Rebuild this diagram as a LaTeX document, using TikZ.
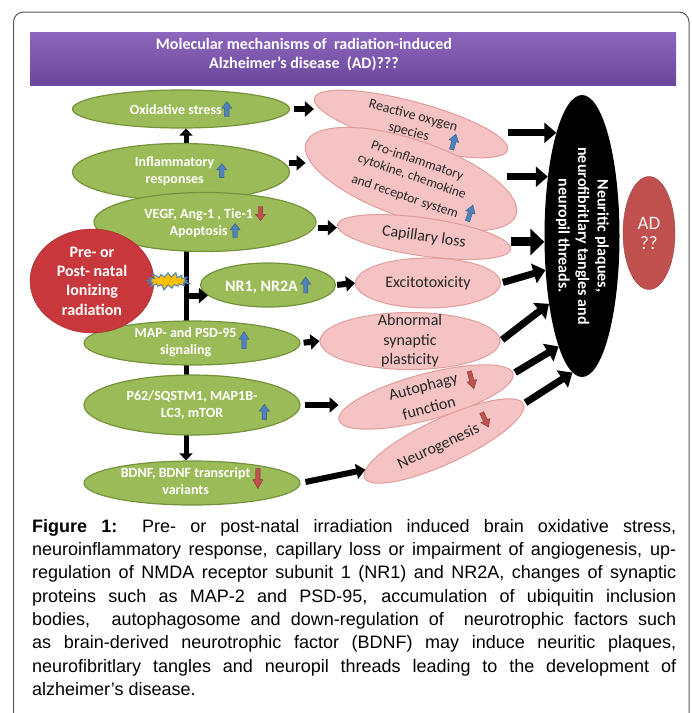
\documentclass[tikz,border=0pt]{standalone}
\usepackage{fontspec}
\setmainfont{Carlito}
\newfontfamily\capfont{Liberation Sans}
\usepackage{graphicx}
\usetikzlibrary{shapes.geometric,shapes.symbols,arrows.meta,backgrounds}
\definecolor{greenfill}{HTML}{9BBB59}
\definecolor{greenedge}{HTML}{76923C}
\definecolor{pinkfill}{HTML}{F5C3C3}
\definecolor{pinkedge}{HTML}{E39C9C}
\definecolor{radred}{HTML}{C8373B}
\definecolor{adred}{HTML}{C0504D}
\definecolor{upblue}{HTML}{4F81BD}
\definecolor{zapyellow}{HTML}{FFC000}
\definecolor{hdrtop}{HTML}{8C67BD}
\definecolor{hdrbot}{HTML}{6B479B}
\newcommand{\arrup}[1][15]{\tikz[x=1pt,y=1pt,baseline=2pt]\filldraw[fill=upblue,draw=upblue!70!black,line width=0.4pt] (-2.2,0) -- (2.2,0) -- (2.2,#1*0.55) -- (5,#1*0.55) -- (0,#1) -- (-5,#1*0.55) -- (-2.2,#1*0.55) -- cycle;}
\newcommand{\arrdown}[1][15]{\tikz[x=1pt,y=1pt,baseline=2pt]\filldraw[fill=adred,draw=adred!70!black,line width=0.4pt] (-2.2,#1) -- (2.2,#1) -- (2.2,#1*0.45) -- (5,#1*0.45) -- (0,0) -- (-5,#1*0.45) -- (-2.2,#1*0.45) -- cycle;}
\newcommand{\capspace}{\spaceskip=0.278em plus 1em minus 0.08em\relax}
\begin{document}
\begin{tikzpicture}[x=1pt,y=-1pt,
        cause/.style={ellipse,draw=greenedge,fill=greenfill,line width=1.2pt,text=white,inner sep=-30pt,align=center,font=\bfseries\fontsize{14}{17}\selectfont},
        effect/.style={ellipse,draw=pinkedge,fill=pinkfill,line width=1pt,text=black!85,inner sep=-30pt,align=center,font=\fontsize{16}{19.5}\selectfont},
        blockarrow/.style={line width=6pt,-{Triangle[length=9pt,width=15pt]}},
        bigarrow/.style={line width=7pt,-{Triangle[length=12pt,width=20pt]}}]
        \useasboundingbox (0,0) rectangle (692,713);
        \draw[black!65,line width=1pt,rounded corners=10pt] (13.5,12) rectangle (689,760);
        \node[rectangle,minimum width=646pt,minimum height=53pt,inner sep=0pt,top color=hdrtop,bottom color=hdrbot] (hdr) at (353,58.5) {};
        \node[text=white,align=center,font=\bfseries\fontsize{16}{19}\selectfont] (title) at (304,55) {Molecular mechanisms of \ radiation-induced\\Alzheimer's disease \ (AD)???};
        % causes
        \node[cause,minimum width=217pt,minimum height=38pt] (ox) at (181,109) {Oxidative stress\arrup[15]};
        \node[cause,minimum width=217pt,minimum height=57pt] (infl) at (181,172) {\begin{tabular}{@{}c@{}}Inflammatory\\responses\end{tabular}\,\arrup[14]};
        \node[cause,minimum width=222pt,minimum height=59pt] (vegf) at (205,222) {VEGF, Ang-1 , Tie-1\,\arrdown[14]\\Apoptosis\,\arrup[14]};
        \node[cause,minimum width=135pt,minimum height=44pt,font=\bfseries\fontsize{16}{19}\selectfont] (nr) at (268,285) {NR1, NR2A\,\arrup[16]};
        \node[cause,minimum width=216pt,minimum height=44pt] (map) at (192,343) {\begin{tabular}{@{}c@{}}MAP- and PSD-95\\signaling\end{tabular}\,\arrup[17]};
        \node[cause,minimum width=216pt,minimum height=60pt] (p62) at (192,405) {P62/SQSTM1, MAP1B-\\LC3, mTOR\rlap{\hspace{36pt}\arrup[15]}};
        \node[cause,minimum width=216pt,minimum height=44pt] (bdnf) at (192,483) {\begin{tabular}{@{}c@{}}BDNF, BDNF transcript\\variants\end{tabular}\,\arrdown[20]};
        \node[ellipse,fill=radred,draw=radred!80!black,minimum width=124pt,minimum height=104pt,inner sep=-30pt,text=white,align=center,font=\bfseries\fontsize{16}{19.3}\selectfont] (rad) at (92,281) {Pre- or\\Post- natal\\Ionizing\\radiation};
        \node[starburst,fill=zapyellow,draw=upblue,line width=1pt,minimum width=46pt,minimum height=20pt,starburst point height=6pt,inner sep=0pt] (zap) at (168,281) {};
        % effects
        \node[effect,rotate=-15,minimum width=200pt,minimum height=45pt,font=\fontsize{14}{17}\selectfont] (ros) at (411,124) {Reactive oxygen\\species\rlap{\hspace{20pt}\arrup[16]}};
        \node[effect,rotate=-19,minimum width=222pt,minimum height=78pt,font=\fontsize{13.5}{16.5}\selectfont] (pro) at (411,179) {Pro-inflammatory\\cytokine, chemokine\\and receptor system\rlap{\hspace{6pt}\raisebox{3pt}{\arrup[17]}}};
        \node[effect,rotate=-8,minimum width=175pt,minimum height=38pt] (cap) at (424,237) {Capillary loss};
        \node[effect,minimum width=145pt,minimum height=50pt] (exc) at (428,283) {Excitotoxicity};
        \node[effect,minimum width=180pt,minimum height=57pt] (abn) at (410,341) {Abnormal\\synaptic\\plasticity};
        \node[effect,rotate=15,minimum width=180pt,minimum height=46pt] (aut) at (426,397) {Autophagy\rlap{\hspace{8pt}\raisebox{-8pt}{\arrdown[18]}}\\function};
        \node[effect,rotate=25,minimum width=175pt,minimum height=45pt] (neu) at (444,441) {Neurogenesis\hspace{4pt}\raisebox{3pt}{\arrdown[16]}};
        \node[ellipse,fill=black,minimum width=75pt,minimum height=282pt,inner sep=-30pt,text=white,font=\bfseries\fontsize{16}{19.5}\selectfont] (np) at (582,236) {\rotatebox{-90}{\begin{tabular}{@{}c@{}}Neuritic plaques,\\neurofibritlary tangles and\\neuropil threads.\end{tabular}}};
        \node[ellipse,fill=adred,draw=adred!80!black,minimum width=52pt,minimum height=113pt,inner sep=-30pt,text=white!90!adred,align=center,font=\fontsize{19}{20}\selectfont] (ad) at (649,233) {AD\\??};
        % connectors
        \begin{scope}[on background layer]
          \coordinate (trunk) at (186,300);
          \draw[line width=5pt,{Triangle[length=7pt,width=13pt]}-{Triangle[length=7pt,width=13pt]}] (trunk |- ox.south) -- (trunk |- bdnf.north);
        \end{scope}
        \draw[blockarrow] (trunk |- nr.190) -- (nr.190);
        \draw[blockarrow,shorten <=4pt] (ox.east) -- (ox.east -| ros.west);
        \draw[blockarrow,shorten <=4pt] (infl.5) -- (infl.5 -| pro.west);
        \draw[blockarrow,shorten <=3pt] (vegf.-3) -- (vegf.-3 -| cap.west);
        \draw[blockarrow,shorten <=1pt] (nr.east) -- (exc.west);
        \draw[blockarrow,shorten <=3pt] (map.east) -- (abn.west);
        \draw[blockarrow,shorten <=4pt] (p62.east) -- (p62.east -| aut.west);
        \draw[blockarrow,shorten <=5pt] (bdnf.east) -- (neu.175);
        \draw[bigarrow] (np.104 -| ros.east) -- (np.104);
        \draw[bigarrow,shorten <=11pt] (np.120 -| pro.19) -- (np.120);
        \draw[line width=9pt,-{Triangle[length=14pt,width=26pt]}] (np.189 -| cap.east) -- (np.189);
        \draw[bigarrow,shorten <=2pt] (exc.east) -- (np.223);
        \draw[bigarrow,shorten <=2pt] (abn.east) -- (np.244);
        \draw[bigarrow,shorten <=2pt] (aut.east) -- (np.258);
        \draw[bigarrow,shorten <=2pt] (neu.east) -- (np.266);
        \node[anchor=north west,inner sep=0pt,text width=644pt,align=justify,font=\capfont\fontsize{18}{23.3}\selectfont\capspace] (caption) at (32,519) {\textbf{Figure 1:} Pre- or post-natal irradiation induced brain oxidative stress,\linebreak
          neuroinflammatory response, capillary loss or impairment of angiogenesis, up-\linebreak
          regulation of NMDA receptor subunit 1 (NR1) and NR2A, changes of synaptic\linebreak
          proteins such as MAP-2 and PSD-95, accumulation of ubiquitin inclusion\linebreak
          bodies, \ autophagosome and down-regulation of \ neurotrophic factors such\linebreak
          as brain-derived neurotrophic factor (BDNF) may induce neuritic plaques,\linebreak
          neurofibritlary tangles and neuropil threads leading to the development of\linebreak
          alzheimer’s disease.};
      \end{tikzpicture}
\end{document}
